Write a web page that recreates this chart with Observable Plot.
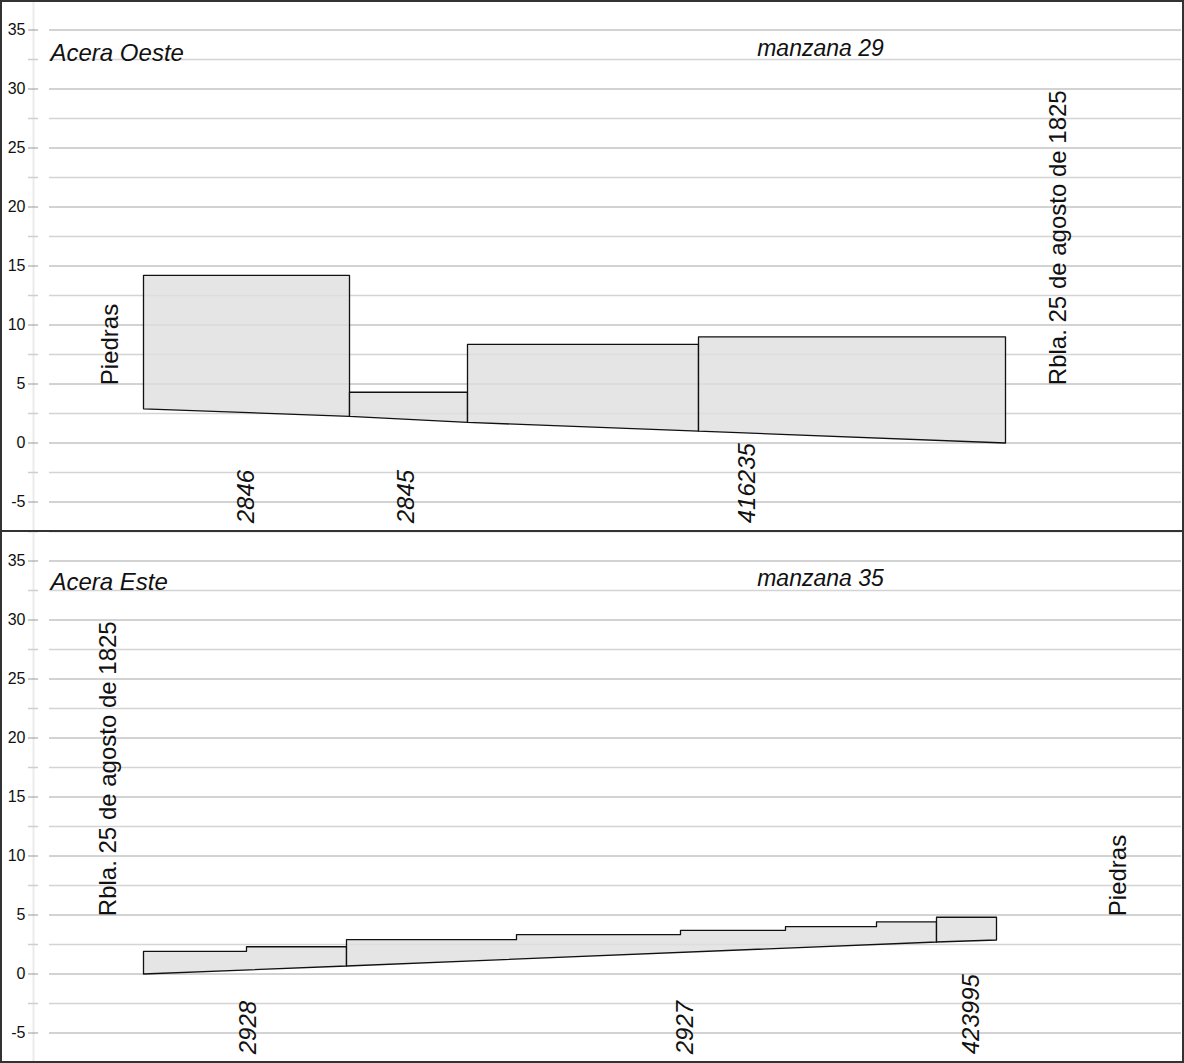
<!DOCTYPE html>
<html>
<head>
<meta charset="utf-8">
<script src="https://cdn.jsdelivr.net/npm/d3@7"></script>
<script src="https://cdn.jsdelivr.net/npm/@observablehq/plot@0.6"></script>
<style>
  html, body { margin: 0; padding: 0; background: #fff; }
  #wrap { position: relative; width: 1184px; height: 1063px; overflow: hidden; }
  #wrap svg { display: block; position: absolute; left: 0; }
  .frame { position: absolute; left: 0; top: 0; width: 1184px; height: 1063px; box-sizing: border-box; border: 2px solid #333; pointer-events: none; }
  .divider { position: absolute; left: 0; top: 530px; width: 1184px; height: 2px; background: #333; pointer-events: none; }
</style>
</head>
<body>
<div id="wrap"></div>
<script>
// ---------- Data (x in metres along the block front, y = elevation) ----------
// Panel 1: Acera Oeste, manzana 29
const title1 = "Acera Oeste";
const block1 = "manzana 29";
const edges1 = [0, 20.6, 32.4, 55.5, 86.2];          // lot boundaries
const stepX1 = [0, 20.6, 32.4, 55.5, 86.2];          // facade-height steps
const tops1 = [14.2, 4.3, 8.35, 9.0];                 // facade heights per step
const base1 = [2.9, 2.25, 1.75, 1.0, 0.0];            // ground level at lot boundaries
const lotLabels1 = ["2846", "2845", "416235"];
const lotLabelX1 = [10.3, 26.3, 60.4];
const ends1 = ["Piedras", "Rbla. 25 de agosto de 1825"];
const endX1 = [-3.35, 91.5];

// Panel 2: Acera Este, manzana 35
const title2 = "Acera Este";
const block2 = "manzana 35";
const edges2 = [0, 20.3, 79.3, 85.3];
const stepX2 = [0, 10.3, 20.3, 37.3, 53.7, 64.2, 73.3, 79.3, 85.3];
const tops2 = [1.92, 2.31, 2.91, 3.33, 3.70, 4.01, 4.41, 4.81];
const base2 = [0.0, 0.68, 2.71, 2.88];
const lotLabels2 = ["2928", "2927", "423995"];
const lotLabelX2 = [10.5, 54.2, 82.8];
const ends2 = ["Rbla. 25 de agosto de 1825", "Piedras"];
const endX2 = [-3.5, 97.5];

const majorTicks = [-5, 0, 5, 10, 15, 20, 25, 30, 35];
const minorTicks = [-7.5, -2.5, 2.5, 7.5, 12.5, 17.5, 22.5, 27.5, 32.5, 37.5];

// ---------- Drawing ----------
const FONT = '"Liberation Sans", Arial, Helvetica, sans-serif';

function polygons(edges, stepX, tops, base) {
  const pts = [];
  for (let i = 0; i < edges.length - 1; i++) {
    const a = edges[i], b = edges[i + 1];
    pts.push({lot: i, x: a, y: base[i]});
    for (let j = 0; j < stepX.length - 1; j++) {
      if (stepX[j] >= a - 1e-9 && stepX[j + 1] <= b + 1e-9) {
        pts.push({lot: i, x: stepX[j], y: tops[j]});
        pts.push({lot: i, x: stepX[j + 1], y: tops[j]});
      }
    }
    pts.push({lot: i, x: b, y: base[i + 1]});
    pts.push({lot: i, x: a, y: base[i]});
  }
  return pts;
}

function panel(cfg) {
  const pts = polygons(cfg.edges, cfg.stepX, cfg.tops, cfg.base);
  return Plot.plot({
    width: 1184,
    height: 531,
    marginLeft: 49,
    marginRight: 3,
    marginTop: 0,
    marginBottom: 0,
    style: {fontFamily: FONT, fontSize: "16px", background: "transparent", overflow: "visible"},
    x: {domain: [-9.4, 103.8], axis: null},
    y: {domain: [-7.5, 37.5], axis: null},
    marks: [
      Plot.ruleX([-11], {y1: -7.5, y2: 37.5, stroke: "#ebebeb", strokeWidth: 2}),
      Plot.ruleY(minorTicks, {stroke: "#d4d4d4", strokeWidth: 1.6}),
      Plot.ruleY(majorTicks, {stroke: "#a6a6a6", strokeWidth: 1}),
      Plot.axisY({ticks: minorTicks, tickSize: 10, dx: -11, tickFormat: () => "", label: null,
                  stroke: "#cfcfcf", strokeWidth: 1.5}),
      Plot.axisY({ticks: majorTicks, tickSize: 10, dx: -11, tickFormat: () => "", label: null,
                  stroke: "#999"}),
      Plot.text(majorTicks, {y: d => d, text: d => String(d), frameAnchor: "left", dx: -24,
                  textAnchor: "end", fontSize: 16, fill: "#111"}),
      Plot.line(pts, {x: "x", y: "y", z: "lot", fill: "#dedede", fillOpacity: 0.8,
                      stroke: "#111", strokeWidth: 1.3, curve: "linear"}),
      Plot.text(cfg.lotLabels.map((t, i) => ({t, x: cfg.lotLabelX[i]})),
        {x: "x", y: -6.8, text: "t", rotate: -90, textAnchor: "start", fontSize: 24,
         fontStyle: "italic", fill: "#111"}),
      Plot.text(cfg.ends.map((t, i) => ({t, x: cfg.endX[i]})),
        {x: "x", y: 4.9, text: "t", rotate: -90, textAnchor: "start", fontSize: 24, fill: "#111"}),
      Plot.text([cfg.title], {frameAnchor: "top-left", dx: 1, dy: cfg.titleDy, textAnchor: "start",
        lineAnchor: "bottom", fontSize: 24, fontStyle: "italic", fill: "#111"}),
      Plot.text([cfg.block], {frameAnchor: "top-left", dx: 771, dy: cfg.blockDy, textAnchor: "middle",
        lineAnchor: "bottom", fontSize: 23, fontStyle: "italic", fill: "#111"})
    ]
  });
}

const wrap = document.getElementById("wrap");
const p1 = panel({edges: edges1, stepX: stepX1, tops: tops1, base: base1,
  lotLabels: lotLabels1, lotLabelX: lotLabelX1, ends: ends1, endX: endX1,
  title: title1, block: block1, titleDy: 60, blockDy: 55});
const p2 = panel({edges: edges2, stepX: stepX2, tops: tops2, base: base2,
  lotLabels: lotLabels2, lotLabelX: lotLabelX2, ends: ends2, endX: endX2,
  title: title2, block: block2, titleDy: 58, blockDy: 54});
p1.style.top = "0px";
p2.style.top = "531px";
wrap.appendChild(p1);
wrap.appendChild(p2);
const fr = document.createElement("div"); fr.className = "frame"; wrap.appendChild(fr);
const dv = document.createElement("div"); dv.className = "divider"; wrap.appendChild(dv);
</script>
</body>
</html>
